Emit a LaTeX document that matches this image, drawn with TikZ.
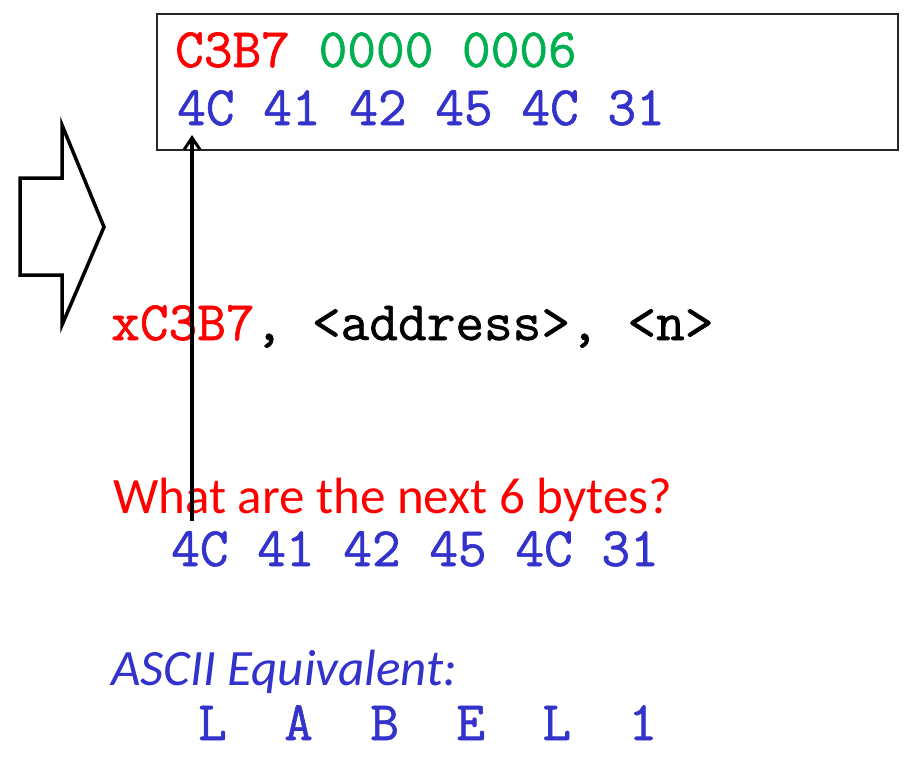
\documentclass[tikz,border=0pt]{standalone}
\usepackage{fontspec}
\setmainfont{Carlito}
\newfontfamily\monof{Latin Modern Mono}[FakeBold=1.1]
\usetikzlibrary{arrows.meta}
\definecolor{cred}{RGB}{255,0,0}
\definecolor{cgreen}{RGB}{0,176,80}
\definecolor{cblue}{RGB}{51,51,204}
\tikzset{
  mono/.style={inner sep=0pt, anchor=base west, font=\monof\bfseries\fontsize{55.7}{58}\selectfont},
  sans/.style={inner sep=0pt, anchor=base west, font=\fontsize{51}{55}\selectfont},
}
\begin{document}
\begin{tikzpicture}[x=1pt,y=-1pt]
\useasboundingbox (0,0) rectangle (918,771);
% box
\node[draw=black!85, line width=2pt, inner sep=0pt, minimum width=741pt, minimum height=136pt, anchor=north west] (box) at (156,13) {};
\node[mono] (l1) at (175,67) {\textcolor{cred}{C3B7} \textcolor{cgreen}{0000 0006}};
\node[mono, text=cblue] (l2) at (177,125) {4C 41 42 45 4C 31};
% block arrow
\draw[line width=3.5pt, line join=miter] (20,178) -- (62,178) -- (62,125) -- (104,227) -- (62,325) -- (62,275) -- (20,275) -- cycle;
% texts
\node[mono] (cmd) at (111,340) {\textcolor{cred}{xC3B7}, <address>, <n>};
\node[sans, text=cred] (q) at (113,513) {What are the next 6 bytes?};
\node[mono, text=cblue] (bytes) at (171,566) {4C 41 42 45 4C 31};
\node[sans, text=cblue, font=\itshape\fontsize{51}{55}\selectfont] (ascii) at (111,685) {ASCII Equivalent:};
\node[mono, text=cblue] (lab) at (198,740) {L~~A~~B~~E~~L~~1};
% pointer arrow
\coordinate (ps) at (192,521);
\coordinate (pe) at (192,135);
\draw[line width=3.5pt, -{Straight Barb[length=12pt,width=16pt,line width=3pt]}] (ps) -- (pe);
\end{tikzpicture}
\end{document}
